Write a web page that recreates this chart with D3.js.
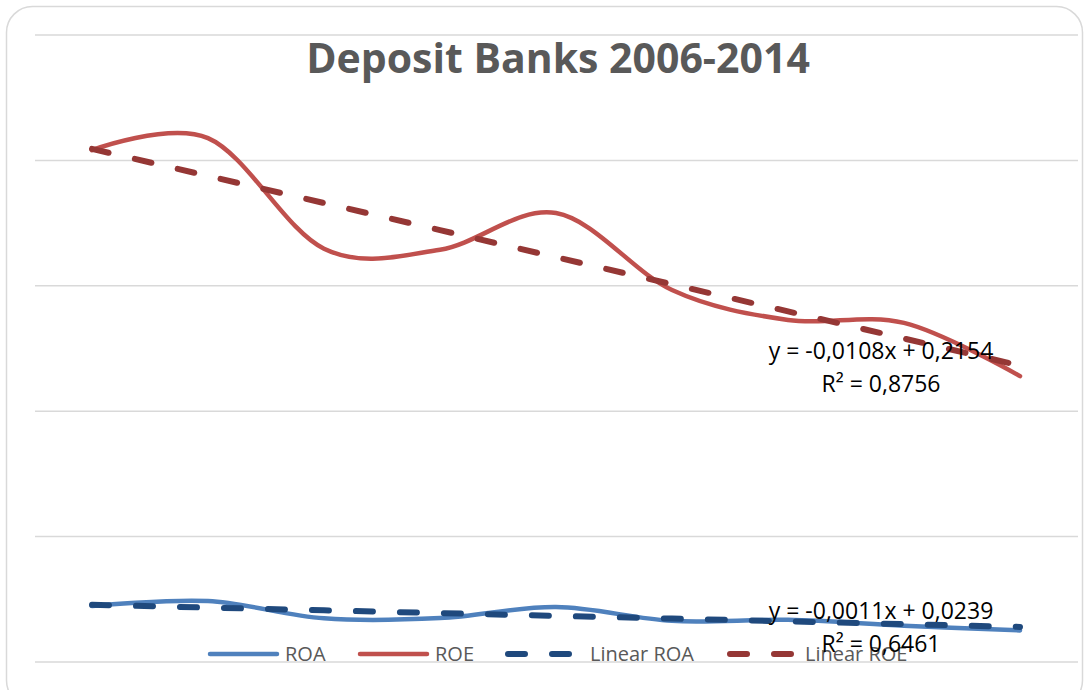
<!DOCTYPE html>
<html><head><meta charset="utf-8">
<script src="https://cdn.jsdelivr.net/npm/d3@7"></script>
<style>html,body{margin:0;padding:0;background:#fff;}svg{display:block;}</style>
</head><body>
<svg id="chart" width="1090" height="690"></svg>
<script>
const years = [2006, 2007, 2008, 2009, 2010, 2011, 2012, 2013, 2014];
const roa = [0.0223, 0.0243, 0.0174, 0.0175, 0.0219, 0.0164, 0.0168, 0.0145, 0.0126];
const roe = [0.2041, 0.2089, 0.1648, 0.1644, 0.1790, 0.1483, 0.1364, 0.1352, 0.1140];
const yTicks = [0, 0.05, 0.10, 0.15, 0.20, 0.25];
const trendROA = [-0.0011, 0.0239];   // slope, intercept
const trendROE = [-0.0108, 0.2154];
const r2ROA = "0,6461";
const r2ROE = "0,8756";
const seriesNames = ["ROA", "ROE", "Linear ROA", "Linear ROE"];
const title = "Deposit Banks 2006-2014";

const svg = d3.select("#chart");
const fmt = v => v.toFixed(4).replace(".", ",");

// chart border
svg.append("rect").attr("x", 6.5).attr("y", 6.5).attr("width", 1076).attr("height", 700)
  .attr("rx", 26).attr("fill", "#fff").attr("stroke", "#D9D9D9").attr("stroke-width", 1.5);

const x = d3.scalePoint().domain(years).range([92, 1020]);
const y = d3.scaleLinear().domain([0, 0.25]).range([662, 35]);

// gridlines
svg.append("g").selectAll("line").data(yTicks).join("line")
  .attr("x1", 35).attr("x2", 1078)
  .attr("y1", d => y(d)).attr("y2", d => y(d))
  .attr("stroke", "#D9D9D9").attr("stroke-width", 1.5);

const line = d3.line().x((d, i) => x(years[i])).y(d => y(d)).curve(d3.curveCardinal.tension(0));

svg.append("path").datum(roa).attr("d", line).attr("fill", "none")
  .attr("stroke", "#4F81BD").attr("stroke-width", 4.5).attr("stroke-linecap", "round");
svg.append("path").datum(roe).attr("d", line).attr("fill", "none")
  .attr("stroke", "#C0504D").attr("stroke-width", 4.5).attr("stroke-linecap", "round");

function trend(coef) {
  return years.map((yr, i) => [x(yr), y(coef[0] * (i + 1) + coef[1])]);
}
const tl = d3.line();
svg.append("path").attr("d", tl(trend(trendROA))).attr("fill", "none")
  .attr("stroke", "#1F497D").attr("stroke-width", 6).attr("stroke-linecap", "round")
  .attr("stroke-dasharray", "17,27");
svg.append("path").attr("d", tl(trend(trendROE))).attr("fill", "none")
  .attr("stroke", "#953735").attr("stroke-width", 6).attr("stroke-linecap", "round")
  .attr("stroke-dasharray", "17,27");

// title
svg.append("text").attr("x", 558).attr("y", 73).attr("text-anchor", "middle")
  .attr("font-family", "'Open Sans', sans-serif").attr("font-weight", "bold")
  .attr("font-size", 41).attr("fill", "#595959").text(title);

// legend
const legend = [
  {name: seriesNames[0], color: "#4F81BD", dash: null, x1: 210, x2: 277, tx: 285},
  {name: seriesNames[1], color: "#C0504D", dash: null, x1: 360, x2: 427, tx: 435},
  {name: seriesNames[2], color: "#1F497D", dash: "17,27", x1: 508, x2: 573, tx: 590},
  {name: seriesNames[3], color: "#953735", dash: "17,27", x1: 730, x2: 795, tx: 805}
];
const lg = svg.append("g");
legend.forEach(l => {
  const ln = lg.append("line").attr("x1", l.x1).attr("x2", l.x2).attr("y1", 654).attr("y2", 654)
    .attr("stroke", l.color).attr("stroke-linecap", "round")
    .attr("stroke-width", l.dash ? 6 : 4.5);
  if (l.dash) ln.attr("stroke-dasharray", "17,27");
  lg.append("text").attr("x", l.tx).attr("y", 661).attr("font-family", "'Open Sans', sans-serif")
    .attr("font-size", 20).attr("fill", "#595959").text(l.name);
});

// equation labels
function eq(coef, r2, cx, y1) {
  const sign = coef[1] >= 0 ? " + " : " - ";
  svg.append("text").attr("x", cx).attr("y", y1).attr("text-anchor", "middle")
    .attr("font-family", "'Open Sans', sans-serif").attr("font-size", 23).attr("fill", "#000")
    .text("y = " + fmt(coef[0]) + "x" + sign + fmt(Math.abs(coef[1])));
  svg.append("text").attr("x", cx).attr("y", y1 + 33).attr("text-anchor", "middle")
    .attr("font-family", "'Open Sans', sans-serif").attr("font-size", 23).attr("fill", "#000")
    .text("R² = " + r2);
}
eq(trendROE, r2ROE, 881, 359);
eq(trendROA, r2ROA, 881, 619);
</script>
</body></html>
